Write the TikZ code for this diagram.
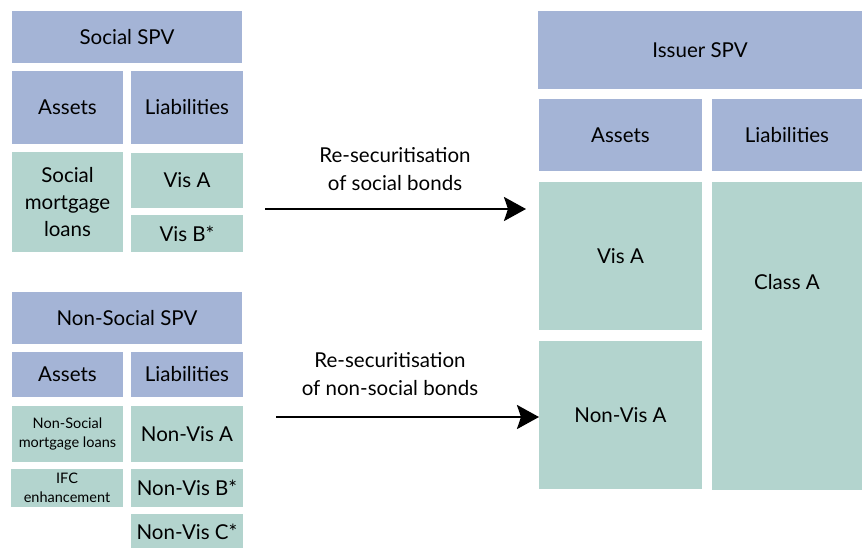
\documentclass[tikz,border=0pt]{standalone}
\usepackage{fontspec}
\setmainfont{Lato}
\usetikzlibrary{arrows.meta}
\definecolor{hdrblue}{RGB}{164,180,214}
\definecolor{cellgreen}{RGB}{179,212,206}
\tikzset{
  box/.style={rectangle, inner sep=0pt, outer sep=0pt, align=center, font=\fontsize{20.5}{27}\selectfont},
  hdr/.style={box, fill=hdrblue},
  cell/.style={box, fill=cellgreen},
  small/.style={font=\fontsize{14.5}{19}\selectfont},
  flow/.style={line width=2.6pt, -{Stealth[length=22pt, width=24pt, inset=4pt]}},
  caption/.style={align=center, font=\fontsize{20.5}{28}\selectfont}
}
\begin{document}
\begin{tikzpicture}[x=1pt, y=-1pt]
\useasboundingbox (0,0) rectangle (862,547);

% Social SPV balance sheet
\node[hdr, minimum width=230pt, minimum height=52pt] (sspv) at (127,37) {Social SPV};
\node[hdr, minimum width=111pt, minimum height=73pt] (sass) at (67.5,107.5) {Assets};
\node[hdr, minimum width=112pt, minimum height=73pt] (slia) at (187,107.5) {Liabilities};
\node[cell, minimum width=111pt, minimum height=100pt] (sloans) at (67.5,202) {Social\\mortgage\\loans};
\node[cell, minimum width=112pt, minimum height=55pt] (svisa) at (187,180.5) {Vis A};
\node[cell, minimum width=112pt, minimum height=37pt] (svisb) at (187,233.5) {Vis B*};

% Non-Social SPV balance sheet
\node[hdr, minimum width=230pt, minimum height=52pt] (nspv) at (127,318) {Non-Social SPV};
\node[hdr, minimum width=111pt, minimum height=45pt] (nass) at (67.5,374.5) {Assets};
\node[hdr, minimum width=112pt, minimum height=45pt] (nlia) at (187,374.5) {Liabilities};
\node[cell, small, minimum width=111pt, minimum height=56pt] (nloans) at (67.5,434) {Non-Social\\mortgage loans};
\node[cell, small, minimum width=112pt, minimum height=38pt] (nifc) at (67,488) {IFC\\enhancement};
\node[cell, minimum width=112pt, minimum height=56pt] (nvisa) at (187,434) {Non-Vis A};
\node[cell, minimum width=112pt, minimum height=38pt] (nvisb) at (187,488) {Non-Vis B*};
\node[cell, minimum width=112pt, minimum height=36pt] (nvisc) at (187,532) {Non-Vis C*};

% Issuer SPV balance sheet
\node[hdr, minimum width=324pt, minimum height=78pt] (ispv) at (700,50) {Issuer SPV};
\node[hdr, minimum width=163pt, minimum height=72pt] (iass) at (620.5,135) {Assets};
\node[hdr, minimum width=150pt, minimum height=72pt] (ilia) at (787,135) {Liabilities};
\node[cell, minimum width=163pt, minimum height=148pt] (ivisa) at (620.5,256) {Vis A};
\node[cell, minimum width=163pt, minimum height=148pt] (inonvisa) at (620.5,415) {Non-Vis A};
\node[cell, minimum width=150pt, minimum height=308pt] (iclassa) at (787,336) {};
\node[box] (iclassatxt) at (787,282) {Class A};

% Re-securitisation flows
\coordinate (f1s) at (265,209);
\coordinate (f1e) at (526,209);
\coordinate (f2s) at (276,417);
\coordinate (f2e) at (inonvisa.west |- f2s);
\draw[flow] (f1s) -- (f1e);
\draw[flow] (f2s) -- (f2e);
\node[caption] (c1) at (395,169) {Re-securitisation\\of social bonds};
\node[caption] (c2) at (390,374) {Re-securitisation\\of non-social bonds};
\end{tikzpicture}
\end{document}
